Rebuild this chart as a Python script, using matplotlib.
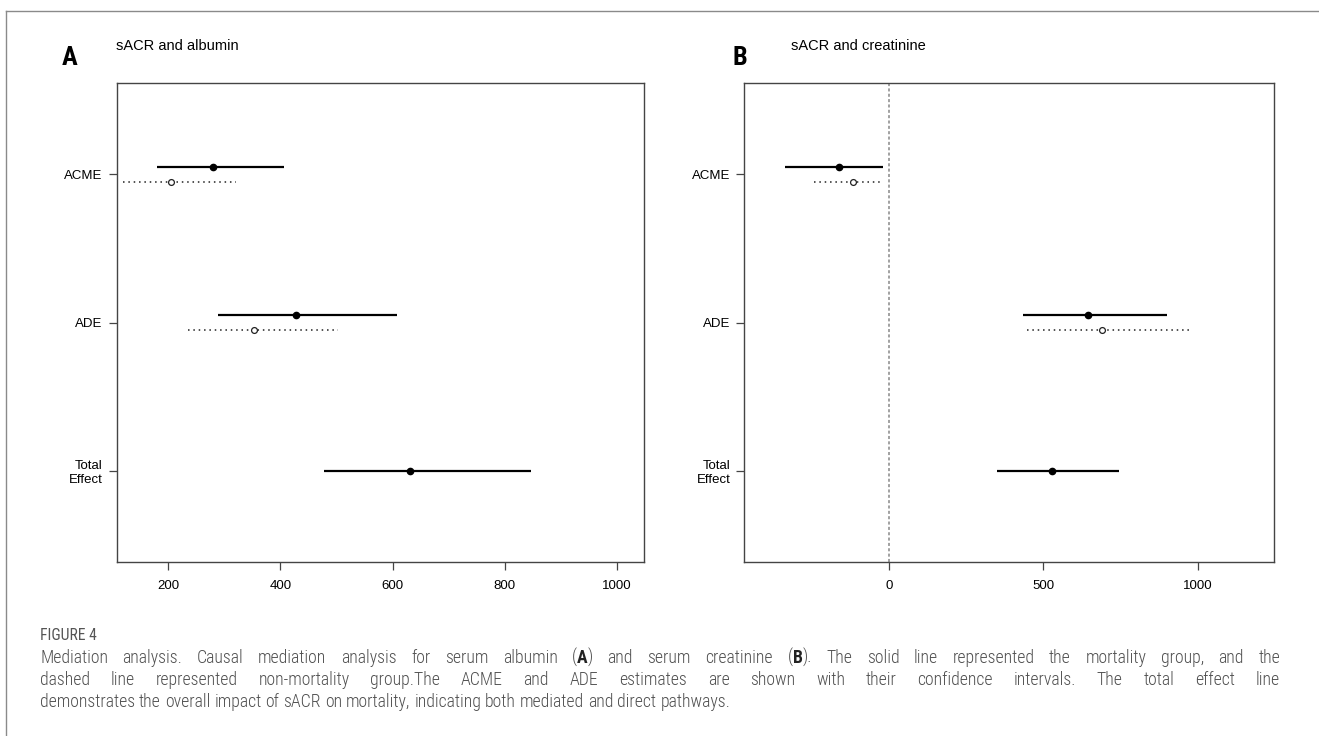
import matplotlib
matplotlib.use("Agg")
import matplotlib.pyplot as plt
from matplotlib.lines import Line2D
from matplotlib import font_manager

plt.rcParams['font.family'] = ['Liberation Sans', 'DejaVu Sans']

W, H = 1319, 736

# effect labels (bottom to top position 1..3)
effects = ['Total\nEffect', 'ADE', 'ACME']
ypos = [1, 2, 3]

# panel A: sACR and albumin  (estimate, lower, upper)
a_mort_est = [631, 427, 280]
a_mort_lo = [477, 288, 179]
a_mort_hi = [847, 608, 407]
a_non_est = [352, 205]          # ADE, ACME
a_non_lo = [236, 119]
a_non_hi = [503, 321]

# panel B: sACR and creatinine
b_mort_est = [529, 644, -161]
b_mort_lo = [351, 433, -338]
b_mort_hi = [746, 900, -20]
b_non_est = [690, -118]
b_non_lo = [448, -243]
b_non_hi = [975, -20]

a_ticks = [200, 400, 600, 800, 1000]
b_ticks = [0, 500, 1000]

fig = plt.figure(figsize=(W / 100, H / 100), dpi=100)

# caption font: a narrow sans if there is one
names = set(f.name for f in font_manager.fontManager.ttflist)
cap_font = ['Open Sans', 'DejaVu Sans']
for nm in ['Liberation Sans Narrow', 'Roboto Condensed', 'Open Sans']:
    if nm in names:
        cap_font = [nm, 'DejaVu Sans']
        break


def px_axes(left, right, top, bottom):
    return fig.add_axes([left / W, 1 - bottom / H, (right - left) / W, (bottom - top) / H])


def draw_panel(ax, mest, mlo, mhi, nest, nlo, nhi, ticks, xlim):
    off = 0.05
    # total effect: single line at position 1, the others shifted
    ax.plot([mlo[0], mhi[0]], [ypos[0], ypos[0]], color='black', lw=1.6, solid_capstyle='butt')
    ax.plot(mest[0], ypos[0], 'o', color='black', ms=4.5)
    for i in range(1, 3):
        y = ypos[i]
        ax.plot([mlo[i], mhi[i]], [y + off, y + off], color='black', lw=1.6, solid_capstyle='butt')
        ax.plot(mest[i], y + off, 'o', color='black', ms=4.5)
        j = i - 1
        ax.plot([nlo[j], nhi[j]], [y - off, y - off], color='#222222', lw=1.1,
                linestyle=(0, (1, 2.5)))
        ax.plot(nest[j], y - off, 'o', mfc='white', mec='#222222', ms=4.2, mew=0.9)
    ax.set_xlim(*xlim)
    ax.set_ylim(0.38, 3.62)
    ax.set_xticks(ticks)
    ax.set_xticklabels([str(t) for t in ticks])
    ax.set_yticks(ypos)
    ax.set_yticklabels(effects, ha='right', multialignment='right')
    ax.tick_params(axis='both', length=6, width=0.9, color='#444444', labelsize=9.5)
    ax.tick_params(axis='x', pad=7)
    ax.tick_params(axis='y', pad=4)
    for s in ax.spines.values():
        s.set_color('#444444')
        s.set_linewidth(1.0)


axA = px_axes(116.7, 644.3, 82.7, 562.3)
draw_panel(axA, a_mort_est, a_mort_lo, a_mort_hi, a_non_est, a_non_lo, a_non_hi, a_ticks, (108, 1049))

axB = px_axes(744.4, 1273.6, 82.7, 562.3)
axB.axvline(0, color='#888888', lw=1.1, linestyle=(0, (2, 1.5)), zorder=0)
draw_panel(axB, b_mort_est, b_mort_lo, b_mort_hi, b_non_est, b_non_lo, b_non_hi, b_ticks, (-468, 1245))

# panel letters and subtitles
fig.text(62 / W, 1 - 58 / H, 'A', fontsize=19, fontweight='bold', family=cap_font, va='center', ha='left')
fig.text(116 / W, 1 - 46 / H, 'sACR and albumin', fontsize=10.5, va='center', ha='left')
fig.text(733 / W, 1 - 58 / H, 'B', fontsize=19, fontweight='bold', family=cap_font, va='center', ha='left')
fig.text(791 / W, 1 - 46 / H, 'sACR and creatinine', fontsize=10.5, va='center', ha='left')

# outer frame (top and left edge)
fig.add_artist(Line2D([6 / W, 1], [1 - 11 / H, 1 - 11 / H], transform=fig.transFigure, color='#8a8a8a', lw=1))
fig.add_artist(Line2D([6 / W, 6 / W], [0, 1 - 11 / H], transform=fig.transFigure, color='#8a8a8a', lw=1))

cap_color = '#505050'

cap_lines = [
    "Mediation analysis. Causal mediation analysis for serum albumin (*A*) and serum creatinine (*B*). The solid line represented the mortality group, and the",
    "dashed line represented non-mortality group.The ACME and ADE estimates are shown with their confidence intervals. The total effect line",
    "demonstrates the overall impact of sACR on mortality, indicating both mediated and direct pathways.",
]
cap_base = [663, 685, 707]
x0, x1 = 40, 1280
last_end = 732

renderer = fig.canvas.get_renderer()


def seg_width(txt, bold, size):
    t = fig.text(0, 0, txt, fontsize=size, family=cap_font,
                 fontweight='bold' if bold else 'light')
    w = t.get_window_extent(renderer).width
    t.remove()
    return w


# size the caption so that the last (left aligned) line ends where it does in the figure
plain = cap_lines[2]
cap_size = 10 * (last_end - x0) / seg_width(plain, False, 10)
space_w = seg_width('a a', False, cap_size) - seg_width('aa', False, cap_size)

fig.text(40 / W, 1 - 640 / H, 'FIGURE 4', fontsize=cap_size * 0.88, color='#555555', family=cap_font,
         va='baseline', ha='left')

for k, line in enumerate(cap_lines):
    words = line.split(' ')
    parts = []
    widths = []
    for wd in words:
        segs = [(s, i % 2 == 1) for i, s in enumerate(wd.split('*')) if s != '']
        ws = [seg_width(s, b, cap_size) for s, b in segs]
        parts.append((segs, ws))
        widths.append(sum(ws))
    if k < len(cap_lines) - 1:
        gap = (x1 - x0 - sum(widths)) / (len(words) - 1)
    else:
        gap = space_w
    x = x0
    for segs, ws in parts:
        for (s, b), w in zip(segs, ws):
            fig.text(x / W, 1 - cap_base[k] / H, s, fontsize=cap_size, family=cap_font,
                     fontweight='bold' if b else 'light',
                     color='#222222' if b else cap_color, va='baseline', ha='left')
            x += w
        x += gap

fig.savefig('out.png', dpi=100)
